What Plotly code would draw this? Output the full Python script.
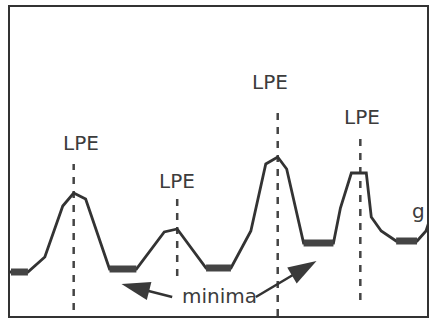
import plotly.graph_objects as go

# Signal trace (time units, signal height)
curve_x = [0, 18, 35, 53, 64, 76, 100, 127, 155, 168, 197, 222, 242, 257, 269, 278,
           295, 325, 332, 343, 358, 363, 373, 388, 409, 418, 421]
curve_y = [44, 44, 59, 110, 123, 117, 47, 47, 84, 87, 48, 48, 85, 152, 159, 147,
           73, 73, 108, 143, 143, 99, 85, 75, 75, 85, 94]

# Minima plateaus: start, end, level
min_start = [1, 100, 197, 295, 388]
min_end = [18, 127, 222, 325, 409]
min_level = [44, 47, 48, 73, 75]

# LPE markers: x position, dashed line top and bottom, label position
lpe_x = [64, 168, 269, 352]
lpe_top = [152, 120, 206, 181]
lpe_bottom = [6, 40, 0, 16]
lpe_label_x = [71, 168, 261, 354]
lpe_label_y = [173, 135, 234, 199]
lpe_text = ["LPE", "LPE", "LPE", "LPE"]

# Minima arrows: tail -> tip
arrow_tail_x = [163, 247]
arrow_tail_y = [19, 19]
arrow_tip_x = [112, 308]
arrow_tip_y = [32, 55]

INK = "#333333"
TXT = "#3c3c3c"
FONT = "DejaVu Sans"

fig = go.Figure()

# dashed LPE lines
for x, t, b in zip(lpe_x, lpe_top, lpe_bottom):
    fig.add_trace(go.Scatter(x=[x, x], y=[b, t], mode="lines",
                             line=dict(color="#444444", width=2.5, dash="7px,7px"),
                             hoverinfo="skip", showlegend=False))

# main curve
fig.add_trace(go.Scatter(x=curve_x, y=curve_y, mode="lines",
                         line=dict(color=INK, width=2.8),
                         hoverinfo="skip", showlegend=False))

# thick minima plateaus
for s, e, v in zip(min_start, min_end, min_level):
    fig.add_trace(go.Scatter(x=[s, e], y=[v, v], mode="lines",
                             line=dict(color="#444444", width=7),
                             hoverinfo="skip", showlegend=False))

# arrows
for tx, ty, hx, hy in zip(arrow_tail_x, arrow_tail_y, arrow_tip_x, arrow_tip_y):
    fig.add_trace(go.Scatter(x=[tx, hx], y=[ty, hy], mode="lines+markers",
                             line=dict(color=INK, width=2.5),
                             marker=dict(symbol="arrow", size=[0, 30], angleref="previous",
                                         color="#3a3a3a", opacity=1, line=dict(width=0)),
                             hoverinfo="skip", showlegend=False))

# labels
for x, y, t in zip(lpe_label_x, lpe_label_y, lpe_text):
    fig.add_annotation(x=x, y=y, text=t, showarrow=False,
                       font=dict(family=FONT, size=20, color=TXT))
fig.add_annotation(x=210, y=20, text="minima", showarrow=False,
                   font=dict(family=FONT, size=20, color=TXT))
fig.add_annotation(x=410, y=105, text="g", showarrow=False,
                   font=dict(family=FONT, size=20, color=TXT))

fig.update_layout(
    width=430, height=322,
    margin=dict(l=10, r=1, t=7, b=6),
    paper_bgcolor="white", plot_bgcolor="white",
    xaxis=dict(range=[0, 419], showgrid=False, zeroline=False, showticklabels=False,
               ticks="", showline=True, linecolor=INK, linewidth=2, mirror=True),
    yaxis=dict(range=[0, 309], showgrid=False, zeroline=False, showticklabels=False,
               ticks="", showline=True, linecolor=INK, linewidth=2, mirror=True),
)

fig.write_html("out.html", config={"displayModeBar": False},
               post_script="document.body.style.margin='0px';")
